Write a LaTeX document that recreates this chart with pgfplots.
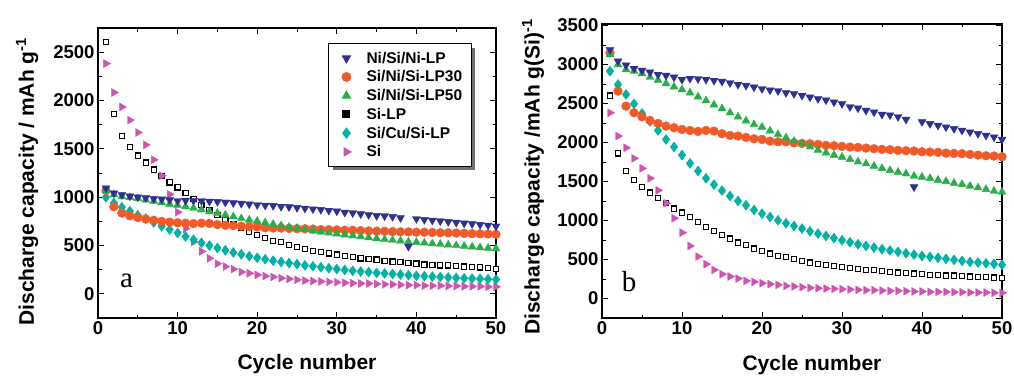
\documentclass[border=0pt]{standalone}
\usepackage{fontspec}
\setmainfont{Liberation Sans}
\newfontfamily\seriffont{Liberation Serif}
\usepackage{pgfplots}
\usepackage{pgfplotstable}
\pgfplotsset{compat=1.18}
\usetikzlibrary{shadows}
\definecolor{cnavy}{RGB}{46,49,146}
\definecolor{corange}{RGB}{240,90,40}
\definecolor{cgreen}{RGB}{40,175,75}
\definecolor{cteal}{RGB}{0,178,165}
\definecolor{cpink}{RGB}{205,85,175}

\pgfplotstableread{
c nini lp30 lp50 silp sicu si
1 1093 1068 1071 2603 998 2382
2 1042 901 1027 1861 940 2083
3 1025 836 1005 1635 896 1933
4 1010 807 998 1519 855 1797
5 1001 790 988 1430 813 1669
6 994 774 972 1357 778 1541
7 984 761 959 1285 738 1387
8 979 749 944 1221 699 1221
9 972 742 929 1152 665 1029
10 962 735 918 1101 630 845
11 966 731 903 1046 593 674
12 965 726 886 982 560 538
13 962 731 870 918 528 440
14 957 728 851 866 500 367
15 953 716 835 815 474 312
16 947 709 816 768 450 282
17 940 706 798 717 428 256
18 935 700 780 683 409 226
19 928 695 764 640 389 213
20 921 692 753 610 373 196
21 915 684 737 576 358 184
22 912 681 721 546 343 175
23 903 681 706 534 330 162
24 899 677 691 508 318 154
25 891 674 680 482 307 145
26 884 673 666 461 295 137
27 877 670 652 444 285 132
28 871 665 640 431 275 128
29 862 664 630 418 265 124
30 855 661 621 405 256 120
31 842 658 611 393 247 115
32 836 657 601 380 238 111
33 826 654 592 367 231 107
34 818 651 582 363 224 107
35 808 648 572 354 216 102
36 805 647 563 341 211 98
37 798 644 555 333 205 98
38 786 642 548 329 199 94
39 490 641 538 320 193 90
40 776 638 534 312 187 90
41 767 637 528 303 183 85
42 760 635 520 299 178 85
43 753 632 514 294 174 85
44 746 631 507 294 170 81
45 738 629 501 286 165 81
46 731 626 494 282 161 77
47 724 623 487 277 158 77
48 716 621 479 273 155 77
49 709 619 472 269 152 73
50 699 616 468 260 148 73
}\dataA

\pgfplotstableread{
c nini lp30 lp50 silp sicu si
1 3192 3150 3128 2603 2915 2382
2 3043 2659 3000 1861 2744 2083
3 2992 2467 2936 1635 2616 1933
4 2949 2382 2915 1519 2497 1797
5 2924 2330 2885 1430 2373 1669
6 2902 2283 2838 1357 2271 1541
7 2872 2245 2800 1285 2155 1387
8 2860 2211 2757 1221 2040 1221
9 2838 2190 2714 1152 1942 1029
10 2808 2168 2680 1101 1839 845
11 2821 2155 2638 1046 1733 674
12 2817 2143 2586 982 1635 538
13 2808 2155 2539 918 1541 440
14 2795 2147 2484 866 1460 367
15 2783 2113 2437 815 1383 312
16 2766 2091 2382 768 1315 282
17 2744 2083 2330 717 1251 256
18 2731 2066 2279 683 1195 226
19 2710 2049 2232 640 1135 213
20 2689 2040 2198 610 1088 196
21 2672 2019 2151 576 1046 184
22 2663 2010 2104 546 1003 175
23 2638 2010 2061 534 965 162
24 2625 1997 2019 508 930 154
25 2603 1989 1985 482 896 145
26 2582 1985 1946 461 862 137
27 2561 1976 1904 444 832 132
28 2544 1963 1869 431 802 128
29 2518 1959 1839 418 773 124
30 2497 1950 1814 405 747 120
31 2458 1942 1784 393 721 115
32 2441 1938 1754 380 696 111
33 2411 1929 1729 367 674 107
34 2390 1921 1699 363 653 107
35 2360 1912 1669 354 632 102
36 2352 1908 1643 341 615 98
37 2330 1899 1622 333 598 98
38 2296 1895 1600 329 580 94
39 1430 1891 1571 320 563 90
40 2266 1882 1558 312 546 90
41 2241 1878 1541 303 534 85
42 2219 1874 1519 299 521 85
43 2198 1865 1502 294 508 85
44 2177 1861 1481 294 495 81
45 2155 1857 1464 286 482 81
46 2134 1848 1443 282 469 77
47 2113 1839 1421 277 461 77
48 2091 1831 1400 273 452 77
49 2070 1827 1379 269 444 73
50 2040 1818 1366 260 431 73
}\dataB

\newcommand{\labfont}{\fontsize{21}{24}\selectfont\bfseries}
\newcommand{\lt}[1]{#1\hspace*{-6.5pt}}
\pgfplotsset{
  mystyle/.style={
    scale only axis,
    xmin=0, xmax=50,
    xtick={0,10,20,30,40,50},
    minor x tick num=1,
    minor y tick num=1,
    tick align=inside,
    major tick length=6pt,
    minor tick length=3.5pt,
    axis line style={line width=1.3pt},
    every tick/.style={black, line width=1pt},
    /pgf/number format/assume math mode=true,
    /pgf/number format/set thousands separator={},
    tick label style={font=\fontsize{18.5}{20}\selectfont\bfseries},
    xlabel={Cycle number},
    every axis x label/.style={at={(axis description cs:0.525,-0.16)}, anchor=center, font=\labfont},
    mark size=4.6pt,
    every axis plot/.append style={only marks},
  },
  nini/.style={mark=triangle*, mark options={rotate=180, fill=cnavy, draw=cnavy}},
  lp30/.style={mark=*, mark size=4.4pt, mark options={fill=corange, draw=corange}},
  lp50/.style={mark=triangle*, mark options={fill=cgreen, draw=cgreen}},
  silp/.style={mark=square*, mark size=2.6pt, mark options={fill=white, draw=black, line width=1.2pt}},
  sicu/.style={mark=diamond*, mark size=5pt, mark options={fill=cteal, draw=cteal}},
  si/.style={mark=triangle*, mark options={rotate=-90, fill=cpink, draw=cpink}},
}

\begin{document}
\begin{tikzpicture}
\path[use as bounding box] (0,0) rectangle (1014pt,376pt);
\begin{axis}[mystyle,
  at={(98pt,58pt)}, anchor=south west,
  width=398pt, height=290pt,
  ymin=-250, ymax=2750,
  ytick={0,500,1000,1500,2000,2500},
  ylabel={Discharge capacity / mAh g\textsuperscript{-1}},
  every axis y label/.style={at={(axis description cs:-0.178,0.47)}, anchor=center, rotate=90, font=\labfont},
  legend cell align=left,
  legend style={at={(axis description cs:0.578,0.947)}, anchor=north west,
    draw=black, line width=1pt, fill=white,
    drop shadow={shadow xshift=4pt, shadow yshift=-4pt, fill=black!55, opacity=1},
    font=\fontsize{15.5}{17}\selectfont\bfseries,
    row sep=2pt, column sep=13.5pt, inner xsep=13.5pt, inner ysep=6pt},
]
\addplot[silp, forget plot] table[x=c, y=silp] {\dataA};
\addplot[si, forget plot] table[x=c, y=si] {\dataA};
\addplot[sicu, forget plot] table[x=c, y=sicu] {\dataA};
\addplot[lp30, forget plot] table[x=c, y=lp30] {\dataA};
\addplot[lp50, forget plot] table[x=c, y=lp50] {\dataA};
\addplot[nini, forget plot] table[x=c, y=nini] {\dataA};
\addlegendimage{nini}
\addlegendentry{\lt{Ni/Si/Ni-LP}}
\addlegendimage{lp30}
\addlegendentry{\lt{Si/Ni/Si-LP30}}
\addlegendimage{lp50}
\addlegendentry{\lt{Si/Ni/Si-LP50}}
\addlegendimage{only marks, mark=square*, mark size=3.5pt, mark options={fill=black, draw=black}}
\addlegendentry{\lt{Si-LP}}
\addlegendimage{sicu}
\addlegendentry{\lt{Si/Cu/Si-LP}}
\addlegendimage{si}
\addlegendentry{\lt{Si}}
\node[font=\seriffont\fontsize{29}{30}\selectfont] at (axis cs:3.6,130) {a};
\end{axis}

\begin{axis}[mystyle,
  at={(602pt,58pt)}, anchor=south west,
  width=400pt, height=294pt,
  ymin=-250, ymax=3520,
  ytick={0,500,1000,1500,2000,2500,3000,3500},
  ylabel={Discharge capacity /mAh g(Si)\textsuperscript{-1}},
  every axis y label/.style={at={(axis description cs:-0.1725,0.48)}, anchor=center, rotate=90, font=\labfont},
]
\addplot[silp] table[x=c, y=silp] {\dataB};
\addplot[si] table[x=c, y=si] {\dataB};
\addplot[sicu] table[x=c, y=sicu] {\dataB};
\addplot[lp30] table[x=c, y=lp30] {\dataB};
\addplot[lp50] table[x=c, y=lp50] {\dataB};
\addplot[nini] table[x=c, y=nini] {\dataB};
\node[font=\seriffont\fontsize{29}{30}\selectfont] at (axis cs:3.4,220) {b};
\end{axis}
\end{tikzpicture}
\end{document}
